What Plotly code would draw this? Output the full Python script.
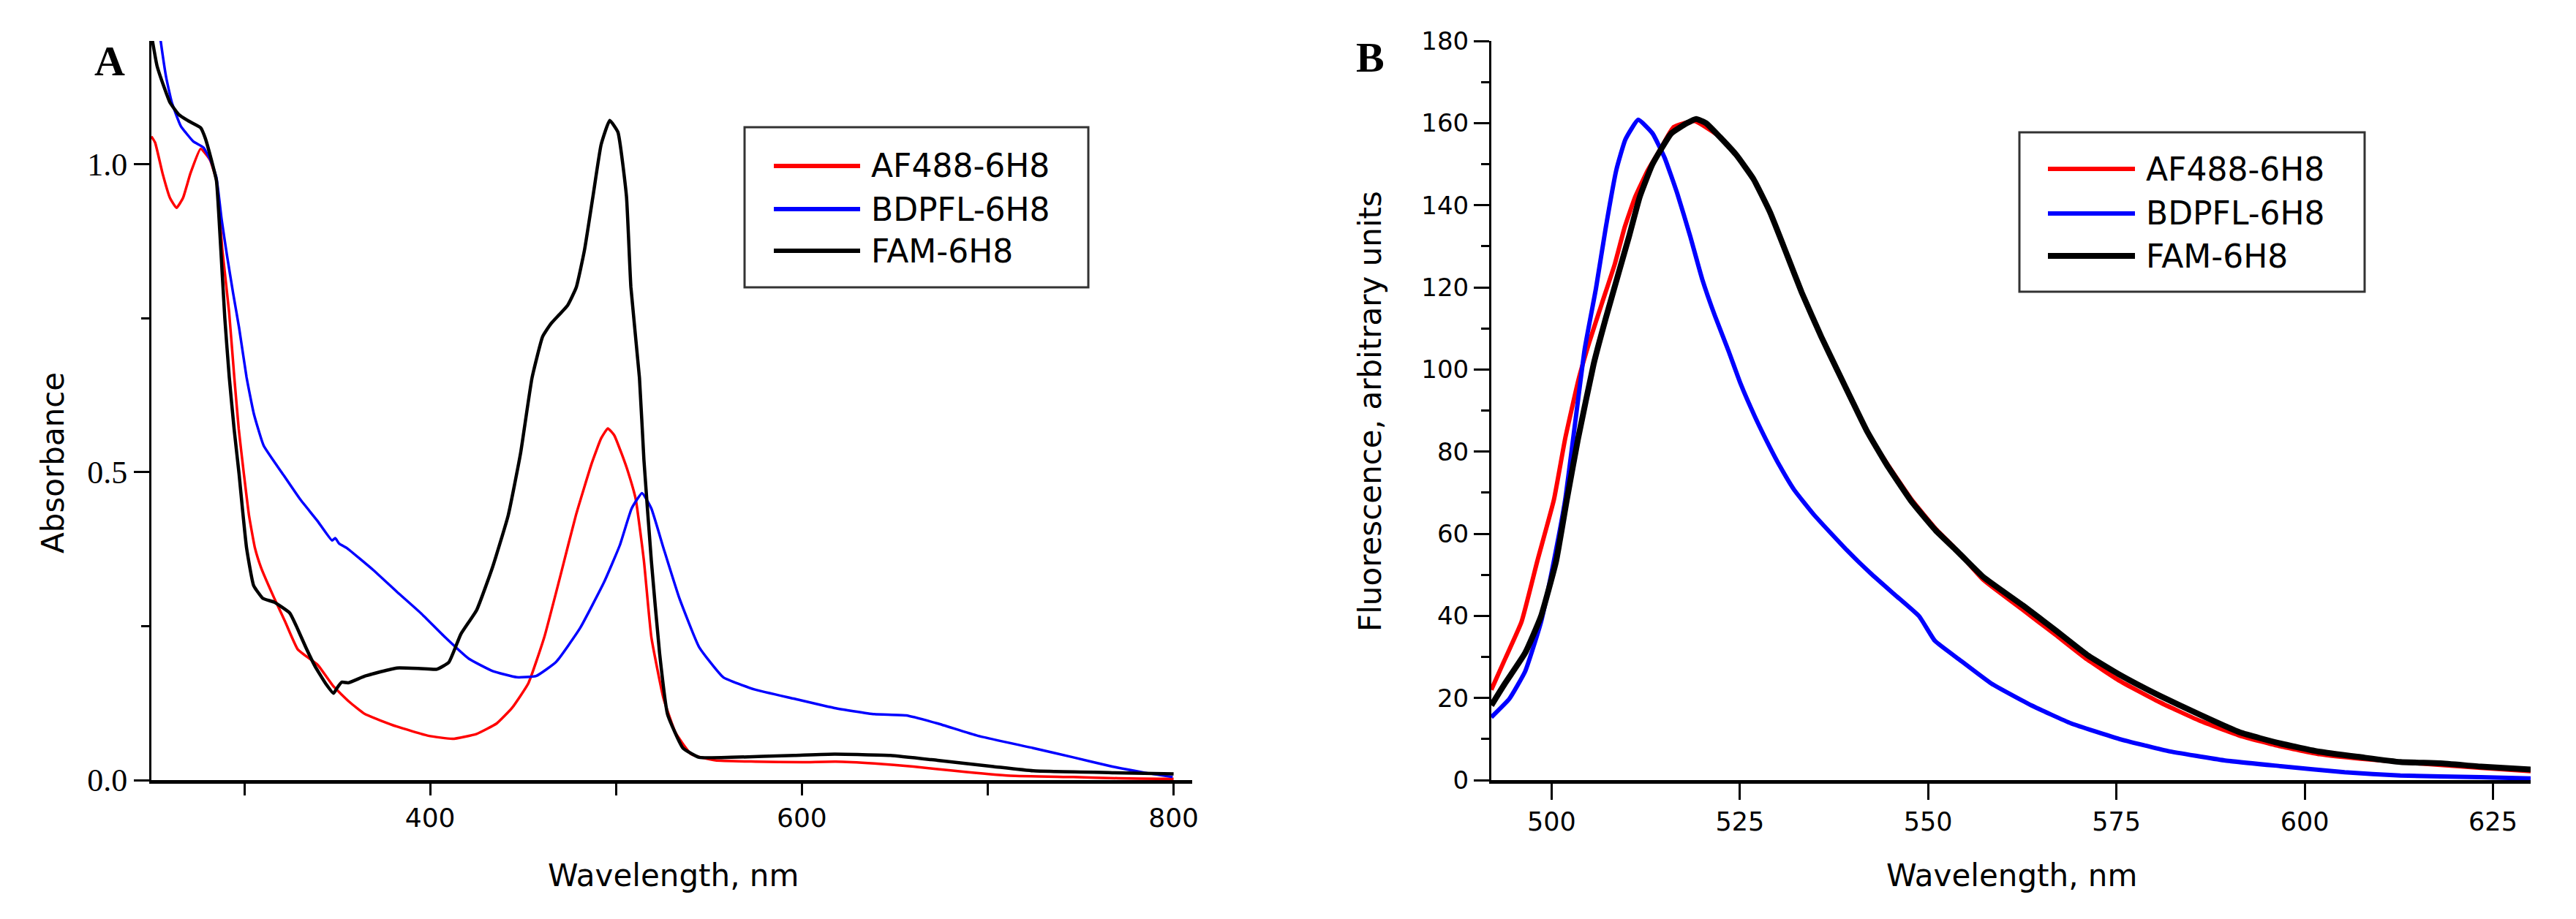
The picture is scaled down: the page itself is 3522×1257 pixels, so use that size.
import plotly.graph_objects as go

# ---------------- Panel A: absorbance ----------------
af488_abs_wl = [250, 252, 256, 260, 263.5, 267, 271, 276.5, 281.5, 285, 288.2, 291.8, 294.6, 297, 299.8, 302.5,
                305.7, 309, 316, 322, 328.8, 339.5, 348, 356.5, 365, 382, 399, 412, 425, 435.8, 444, 452.8,
                461.4, 470, 478.5, 487, 492, 495.6, 499, 503, 506.5, 510.6, 515, 519, 525.6, 532, 540.5,
                553.5, 575, 600, 618, 639, 660, 682, 712, 746, 770, 793, 800]
af488_abs = [1.045, 1.035, 0.985, 0.945, 0.929, 0.945, 0.985, 1.025, 1.007, 0.973, 0.86, 0.76, 0.654, 0.57, 0.496, 0.43,
             0.377, 0.345, 0.296, 0.257, 0.212, 0.187, 0.152, 0.127, 0.107, 0.087, 0.072, 0.067, 0.075, 0.092, 0.117, 0.157,
             0.232, 0.331, 0.431, 0.515, 0.555, 0.571, 0.56, 0.53, 0.50, 0.456, 0.356, 0.232, 0.132, 0.077, 0.042,
             0.032, 0.030, 0.029, 0.030, 0.027, 0.022, 0.015, 0.007, 0.005, 0.003, 0.002, 0.002]

bdpfl_abs_wl = [250, 255, 258, 261, 265.8, 272.5, 278, 282, 285, 287.8, 290.6, 294, 297.2, 301.2, 305.1, 310.4,
                320.9, 330, 339.3, 347.2, 348.9, 351, 355, 369.4, 382, 395, 408, 420.8, 433.6, 446.5, 457,
                467.8, 480.7, 493.5, 502, 508.4, 514, 519, 525.6, 534, 544.7, 557.7, 574.7, 596, 617.6, 639,
                656, 673, 694.6, 724.5, 746, 767, 784.5, 799.5]
bdpfl_abs = [1.32, 1.20, 1.14, 1.10, 1.062, 1.037, 1.027, 1.005, 0.978, 0.91, 0.853, 0.79, 0.734, 0.654, 0.595, 0.543,
             0.496, 0.456, 0.421, 0.389, 0.393, 0.384, 0.377, 0.341, 0.306, 0.271, 0.232, 0.197, 0.177, 0.167, 0.169,
             0.192, 0.247, 0.321, 0.381, 0.441, 0.466, 0.441, 0.376, 0.296, 0.216, 0.167, 0.147, 0.132, 0.117, 0.107,
             0.105, 0.092, 0.072, 0.052, 0.037, 0.022, 0.012, 0.005]

fam_abs_wl = [250, 253, 256.7, 260, 264.6, 270, 276.5, 279, 282, 285, 287, 289.5, 291.9, 294.5, 297.2, 299, 301.2,
              305, 310, 316, 324.5, 328, 333, 338, 343.7, 348, 350, 352.4, 356, 365, 382, 395, 403.6, 410,
              416.5, 425, 433.6, 442, 448.6, 454.8, 460.5, 465, 474, 478.6, 483, 487.6, 492, 496.6, 501,
              505.6, 508, 512.6, 515, 519, 523.4, 527.7, 536, 544.7, 562, 596, 617.6, 647.6, 673, 703,
              724.5, 767, 800]
fam_abs = [1.21, 1.16, 1.126, 1.10, 1.081, 1.07, 1.059, 1.042, 1.01, 0.973, 0.88, 0.75, 0.654, 0.57, 0.496, 0.44, 0.377,
           0.316, 0.295, 0.289, 0.271, 0.25, 0.216, 0.185, 0.157, 0.141, 0.15, 0.159, 0.158, 0.169, 0.182, 0.181, 0.18, 0.191,
           0.237, 0.276, 0.346, 0.43, 0.53, 0.653, 0.72, 0.741, 0.771, 0.80, 0.86, 0.948, 1.032, 1.071, 1.052,
           0.948, 0.80, 0.653, 0.52, 0.356, 0.207, 0.107, 0.052, 0.037, 0.037, 0.040, 0.042, 0.040, 0.032, 0.022,
           0.015, 0.012, 0.010]

# ---------------- Panel B: fluorescence ----------------
af488_fl_wl = [492, 493.8, 496, 498.1, 500.3, 501.8, 503.6, 505, 506.7, 508.4, 509.7, 511.1, 512.8, 514.5, 516.2,
               519, 522.3, 524.5, 526.8, 529, 531.3, 533.2, 535.8, 538.1, 540, 541.9, 544.5, 547.8, 551,
               553.6, 557.3, 562.6, 566.9, 571.1, 575.4, 580.7, 586, 591.4, 596.8, 602, 607.4, 612.7, 618, 623.4, 630]
af488_fl = [22, 29.4, 38.5, 53.3, 68.2, 83.1, 97.7, 106.6, 116.2, 125.7, 134.6, 142, 148.6, 153.8, 159,
            160.5, 156.7, 152.3, 146.4, 138.3, 127.7, 118.8, 108, 99.2, 92, 84.9, 77.2, 68.3, 61.2,
            56.4, 48.8, 41.4, 35.4, 29.4, 24.2, 19.0, 14.5, 10.8, 8.2, 6.3, 5.2, 4.4, 3.7, 3.0, 2.2]

bdpfl_fl_wl = [492, 494.4, 496.5, 498.6, 500.3, 501.8, 503.2, 504.4, 505.9, 507.2, 508.6, 509.8, 511.5, 513.4, 515,
               516.7, 518.4, 520, 521.7, 523.5, 525.1, 527, 529, 530.3, 532.2, 534.8, 537.4, 539.2, 542.4, 545.6,
               548.8, 550.9, 554.1, 558.4, 563.7, 569, 575.4, 581.8, 589.3, 596.8, 605.3, 612.7, 623.4, 630]
bdpfl_fl = [15.3, 19.8, 26.5, 38.5, 53.3, 68.2, 88, 105, 119.8, 134.6, 148.6, 156, 160.8, 157.5, 151.6,
            142.8, 132.5, 122, 113, 104.5, 96.5, 88.5, 81, 76.5, 70.7, 64.7, 59.5, 56, 50.3, 45.1,
            39.9, 33.9, 29.4, 23.5, 18.2, 13.8, 10.0, 7.1, 4.8, 3.4, 1.9, 1.1, 0.7, 0.4]

fam_fl_wl = [492, 493.8, 496.5, 498.6, 500.6, 502, 503.5, 505.6, 507.2, 508.9, 510.3, 511.7, 513.4, 515.9, 518,
             519.2, 520.5, 522.3, 524.5, 526.8, 529, 531.3, 533.2, 535.8, 538.1, 540, 541.9, 544.5, 547.8,
             551, 553.6, 557.3, 562.6, 566.9, 571.1, 575.4, 580.7, 586, 591.4, 596.8, 602, 607.4, 612.7, 618, 623.4, 630]
fam_fl = [18.2, 23.5, 31, 39.9, 53.3, 68, 83, 101.4, 112.5, 123.5, 132.5, 142, 150, 157.5, 160,
          161, 160, 156.7, 152.3, 146.4, 138.3, 127.7, 118.8, 108, 99.2, 92, 84.9, 76.8, 67.8,
          60.8, 56.2, 49.5, 42.5, 36.5, 30.5, 25.7, 20.6, 16.0, 11.6, 8.9, 6.9, 5.6, 4.4, 4.1, 3.3, 2.6]

series_names = ["AF488-6H8", "BDPFL-6H8", "FAM-6H8"]
series_colors = ["#FF0000", "#0000FF", "#000000"]

abs_x_ticks = [300, 400, 500, 600, 700, 800]
abs_x_labels = ["", "400", "", "600", "", "800"]
abs_y_ticks = [0.0, 0.5, 1.0]
abs_y_labels = ["0.0", "0.5", "1.0"]
fl_x_ticks = [500, 525, 550, 575, 600, 625]
fl_y_ticks = [0, 20, 40, 60, 80, 100, 120, 140, 160, 180]

W, H = 3522, 1257


def px(x):
    return x / W


def py(y):
    return 1 - y / H


fig = go.Figure()

abs_data = [(af488_abs_wl, af488_abs), (bdpfl_abs_wl, bdpfl_abs), (fam_abs_wl, fam_abs)]
fl_data = [(af488_fl_wl, af488_fl), (bdpfl_fl_wl, bdpfl_fl), (fam_fl_wl, fam_fl)]
abs_widths = [3.5, 3.5, 4.5]
fl_widths = [6, 6, 8]

for (xv, yv), name, col, lw in zip(abs_data, series_names, series_colors, abs_widths):
    fig.add_trace(go.Scatter(x=xv, y=yv, mode="lines", name=name, showlegend=False,
                             line=dict(color=col, width=lw, shape="spline", smoothing=0.4),
                             xaxis="x", yaxis="y"))
for (xv, yv), name, col, lw in zip(fl_data, series_names, series_colors, fl_widths):
    fig.add_trace(go.Scatter(x=xv, y=yv, mode="lines", name=name, showlegend=False,
                             line=dict(color=col, width=lw, shape="spline", smoothing=0.4),
                             xaxis="x2", yaxis="y2"))

sans = "DejaVu Sans"
serif = "Liberation Serif"
ydom = [py(1067), py(56)]

common_axis = dict(showline=True, linecolor="black", showgrid=False, zeroline=False, automargin=False,
                   ticks="outside", tickcolor="black", tickwidth=3, mirror=False)

fig.update_layout(
    width=W, height=H, autosize=False,
    margin=dict(l=0, r=0, t=0, b=0, pad=0),
    paper_bgcolor="white", plot_bgcolor="white",
    showlegend=False,
    xaxis=dict(domain=[px(207), px(1630)], range=[250, 810], anchor="y",
               tickvals=abs_x_ticks, ticktext=abs_x_labels, ticklen=16, linewidth=4.5,
               tickfont=dict(family=sans, size=36, color="black"), **common_axis),
    yaxis=dict(domain=ydom, range=[0, 1.2], anchor="x",
               tickvals=abs_y_ticks, ticktext=abs_y_labels, ticklen=21, linewidth=3,
               minor=dict(tickvals=[0.25, 0.75], ticklen=11, tickwidth=3, tickcolor="black", ticks="outside"),
               tickfont=dict(family=serif, size=44, color="black"), **common_axis),
    xaxis2=dict(domain=[px(2039), px(3460)], range=[492, 630], anchor="y2",
                tickvals=fl_x_ticks, ticklen=22, linewidth=4.5,
                tickfont=dict(family=sans, size=35, color="black"), **common_axis),
    yaxis2=dict(domain=ydom, range=[0, 180], anchor="x2",
                tickvals=fl_y_ticks, ticklen=21, linewidth=3,
                minor=dict(dtick=10, ticklen=11, tickwidth=3, tickcolor="black", ticks="outside"),
                tickfont=dict(family=sans, size=34, color="black"), **common_axis),
)

annotations = []
shapes = []

# panel letters
annotations.append(dict(text="<b>A</b>", x=px(150), y=py(83), xref="paper", yref="paper",
                        showarrow=False, xanchor="center", yanchor="middle",
                        font=dict(family=serif, size=58, color="black")))
annotations.append(dict(text="<b>B</b>", x=px(1873), y=py(79), xref="paper", yref="paper",
                        showarrow=False, xanchor="center", yanchor="middle",
                        font=dict(family=serif, size=58, color="black")))

# axis titles
title_font = dict(family=sans, size=42, color="black")
annotations.append(dict(text="Absorbance", x=px(72), y=py(633), xref="paper", yref="paper",
                        showarrow=False, textangle=-90, xanchor="center", yanchor="middle", font=title_font))
annotations.append(dict(text="Fluorescence, arbitrary units", x=px(1873), y=py(563), xref="paper", yref="paper",
                        showarrow=False, textangle=-90, xanchor="center", yanchor="middle", font=title_font))
annotations.append(dict(text="Wavelength, nm", x=px(921), y=py(1197), xref="paper", yref="paper",
                        showarrow=False, xanchor="center", yanchor="middle", font=title_font))
annotations.append(dict(text="Wavelength, nm", x=px(2750), y=py(1197), xref="paper", yref="paper",
                        showarrow=False, xanchor="center", yanchor="middle", font=title_font))

# legends (drawn as boxes with sample lines and text)
legend_specs = [
    dict(box=(1018, 174, 1488, 393), line_x=(1058, 1176), text_x=1189, rows=(227, 286, 343), widths=(6, 6, 6)),
    dict(box=(2761, 181, 3233, 399), line_x=(2800, 2919), text_x=2932, rows=(231, 292, 350), widths=(6, 6, 8)),
]
for spec in legend_specs:
    x0, y0, x1, y1 = spec["box"]
    shapes.append(dict(type="rect", xref="paper", yref="paper", x0=px(x0), x1=px(x1), y0=py(y1), y1=py(y0),
                       line=dict(color="#333333", width=3), fillcolor="rgba(0,0,0,0)"))
    for name, col, row, lw in zip(series_names, series_colors, spec["rows"], spec["widths"]):
        shapes.append(dict(type="line", xref="paper", yref="paper", x0=px(spec["line_x"][0]), x1=px(spec["line_x"][1]),
                           y0=py(row), y1=py(row), line=dict(color=col, width=lw)))
        annotations.append(dict(text=name, x=px(spec["text_x"]), y=py(row), xref="paper", yref="paper",
                                showarrow=False, xanchor="left", yanchor="middle",
                                font=dict(family=sans, size=44, color="black")))

fig.update_layout(annotations=annotations, shapes=shapes)

fig.write_html("out.html", config={"displayModeBar": False},
               post_script="document.body.style.margin='0px';")
